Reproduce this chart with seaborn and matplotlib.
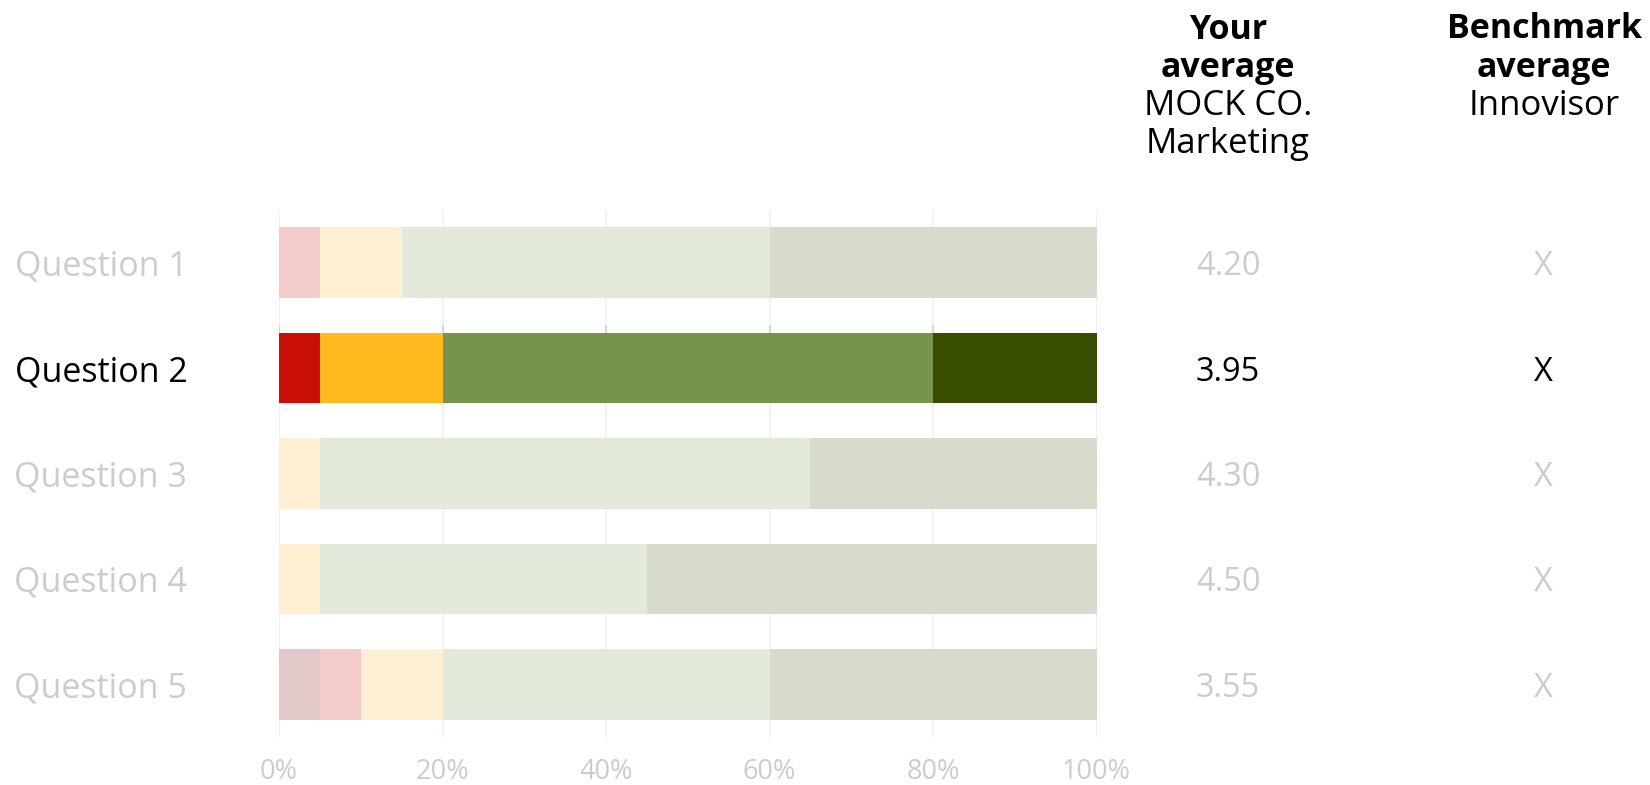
import matplotlib
matplotlib.use("Agg")
import matplotlib.pyplot as plt
import numpy as np
import pandas as pd
import seaborn as sns

# Survey results: share of answers per response level (percent)
questions = ["Question 1", "Question 2", "Question 3", "Question 4", "Question 5"]
levels = ["Strongly disagree", "Disagree", "Neutral", "Agree", "Strongly agree"]
strongly_disagree = [0, 0, 0, 0, 5]
disagree = [5, 5, 0, 0, 5]
neutral = [10, 15, 5, 5, 10]
agree = [45, 60, 60, 40, 40]
strongly_agree = [40, 20, 35, 55, 40]

your_average = ["4.20", "3.95", "4.30", "4.50", "3.55"]
benchmark_average = ["X", "X", "X", "X", "X"]
highlighted = "Question 2"

x_ticks = [0, 20, 40, 60, 80, 100]
x_tick_labels = ["0%", "20%", "40%", "60%", "80%", "100%"]

# Palettes: strong colours for the highlighted row, washed-out ones for the rest
strong_colors = ["#8E1B1B", "#C80E07", "#FFBA1F", "#77944E", "#384D00"]
faded_colors = ["#E2C8C8", "#F4CCCC", "#FFF0D3", "#E3E9DB", "#D7DBCC"]
muted_text = "#CCCCCC"
dark_text = "#000000"

sns.set_theme(style="white")
plt.rcParams["font.family"] = ["Open Sans", "DejaVu Sans"]

shares = np.array([strongly_disagree, disagree, neutral, agree, strongly_agree])
cumulative = shares.cumsum(axis=0)

fig = plt.figure(figsize=(16.5, 7.85), dpi=100)
ax = fig.add_axes([279 / 1650, 1 - 737 / 785, 817.5 / 1650, 527 / 785])

bar_width = 0.67
# Stack by overlaying cumulative totals, widest layer first
for level_idx in range(len(levels) - 1, -1, -1):
    layer = pd.DataFrame({"question": questions, "cum": cumulative[level_idx]})
    palette = {
        q: (strong_colors[level_idx] if q == highlighted else faded_colors[level_idx])
        for q in questions
    }
    sns.barplot(
        data=layer, x="cum", y="question", hue="question", palette=palette,
        order=questions, hue_order=questions, orient="h", width=bar_width,
        saturation=1, linewidth=0, legend=False, ax=ax,
    )

ax.set_xlim(0, 100)
ax.set_ylim(len(questions) - 0.5, -0.5)
ax.set_xticks(x_ticks)
ax.set_xticklabels(x_tick_labels)
ax.set_xlabel("")
ax.set_ylabel("")
ax.grid(axis="x", color="#F2F2F2", linewidth=1.5)
ax.grid(axis="y", visible=False)
ax.set_axisbelow(True)
for spine in ax.spines.values():
    spine.set_visible(False)

ax.tick_params(axis="x", length=0, pad=15, labelsize=19.5, labelcolor=muted_text)
ax.tick_params(axis="y", length=0, pad=66, labelsize=24.5)
for label in ax.get_yticklabels():
    label.set_color(dark_text if label.get_text() == highlighted else muted_text)
    label.set_va("center_baseline")

# Small markers on the gridlines just above the highlighted bar
hi = questions.index(highlighted)
bar_top = hi - bar_width / 2
ax.vlines([t for t in x_ticks[:-1]], bar_top - 0.07, bar_top,
          colors="#D6D6D6", linewidth=1.5, zorder=1)

# Average columns to the right of the bars
col_your = 116.1
col_bench = 154.7
for i, q in enumerate(questions):
    color = dark_text if q == highlighted else muted_text
    ax.text(col_your, i, your_average[i], ha="center", va="center_baseline",
            fontsize=23.5, color=color, clip_on=False)
    ax.text(col_bench, i, benchmark_average[i], ha="center", va="center_baseline",
            fontsize=23.5, color=color, clip_on=False)

# Column headers
x_your = 1228 / 1650
x_bench = 1544 / 1650
for text, y, weight, size in [("Your", 30, "bold", 24.5), ("average", 68, "bold", 24.5),
                              ("MOCK CO.", 106, "normal", 25), ("Marketing", 144, "normal", 25)]:
    fig.text(x_your, 1 - y / 785, text, ha="center", va="center",
             fontsize=size, fontweight=weight, color=dark_text)
for text, y, weight, size in [("Benchmark", 29, "bold", 24.5), ("average", 68, "bold", 24.5),
                              ("Innovisor", 106, "normal", 25)]:
    fig.text(x_bench, 1 - y / 785, text, ha="center", va="center",
             fontsize=size, fontweight=weight, color=dark_text)

fig.savefig("out.png", dpi=100, facecolor="white")
